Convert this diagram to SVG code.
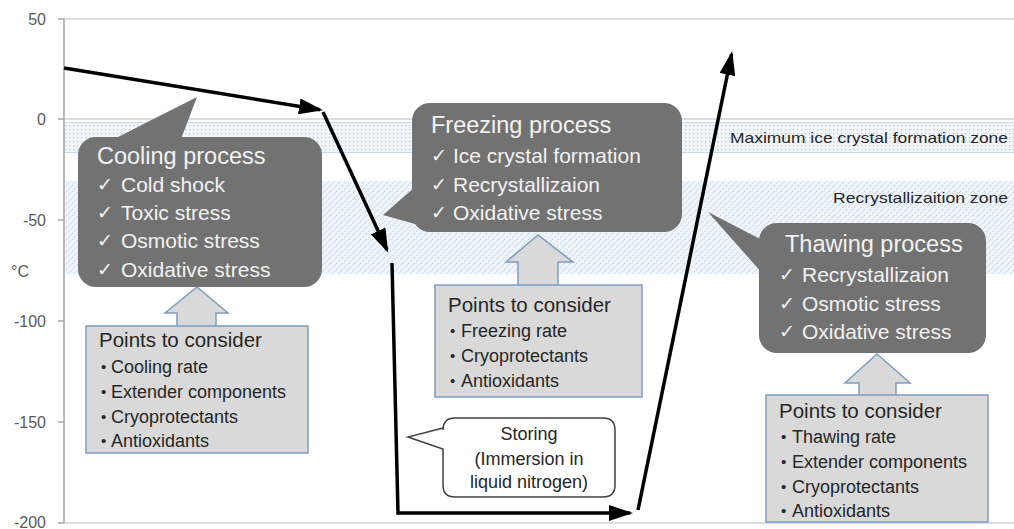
<svg xmlns="http://www.w3.org/2000/svg" width="1014" height="529" viewBox="0 0 1014 529">
<style>
text{font-family:"Liberation Sans",Arial,sans-serif}
.ax{font-size:16px;fill:#595959}
.zl{font-size:15px;fill:#262626}
.ct{font-size:23.5px;fill:#f2f2f2}
.ci{font-size:21px;fill:#f2f2f2}
.ck{font-family:"DejaVu Sans",sans-serif;font-size:19px;fill:#f2f2f2}
.call{fill:#727272}
.pbox{fill:#d9d9d9;stroke:#7f9dc4;stroke-width:1.5}
.pt{font-size:20.5px;fill:#262626}
.pi{font-size:18px;fill:#262626}
.bl{font-size:15px;fill:#262626}
.st{font-size:18px;fill:#262626;text-anchor:middle}
.grid{stroke:#d0d0d0;stroke-width:1.5;fill:none}
.conn{stroke:#000;stroke-width:3.5;fill:none;marker-end:url(#ah)}
</style>
<defs>
<marker id="ah" markerUnits="userSpaceOnUse" markerWidth="24" markerHeight="16" refX="21" refY="8" orient="auto">
<path d="M0,0 L24,8 L0,16 z" fill="#000"/>
</marker>
<pattern id="dots" width="4" height="4" patternUnits="userSpaceOnUse">
<rect width="4" height="4" fill="#f3f7fb"/>
<rect x="1" y="1" width="1.3" height="1.3" fill="#b3c9de"/>
</pattern>
<pattern id="diag" width="6" height="6" patternUnits="userSpaceOnUse">
<rect width="6" height="6" fill="#eef4f9"/>
<path d="M0,6 L6,0" stroke="#aec6dc" stroke-width="0.9" stroke-dasharray="1.3 1.3"/>
</pattern>
</defs>
<rect width="1014" height="529" fill="#fff"/>

<g id="zones">
<rect x="64" y="122" width="950" height="31" fill="url(#dots)"/>
<line x1="64" y1="122.5" x2="1014" y2="122.5" stroke="#c9dbea"/>
<line x1="64" y1="152.5" x2="1014" y2="152.5" stroke="#c9dbea"/>
<rect x="64" y="181" width="950" height="93" fill="url(#diag)"/>
<text class="zl" x="1008" y="143" text-anchor="end" textLength="278" lengthAdjust="spacingAndGlyphs">Maximum ice crystal formation zone</text>
<text class="zl" x="1008" y="203" text-anchor="end" textLength="175" lengthAdjust="spacingAndGlyphs">Recrystallizaition zone</text>
</g>

<g id="axes">
<line class="grid" x1="64" y1="19" x2="1014" y2="19"/>
<line class="grid" x1="64" y1="119" x2="1014" y2="119"/>
<line class="grid" x1="64" y1="523" x2="1014" y2="523"/>
<line x1="64" y1="19" x2="64" y2="523" stroke="#a6a6a6" stroke-width="1.5"/>
<g stroke="#a6a6a6" stroke-width="1.5">
<line x1="58" y1="19" x2="64" y2="19"/>
<line x1="58" y1="119" x2="64" y2="119"/>
<line x1="58" y1="220" x2="64" y2="220"/>
<line x1="58" y1="321" x2="64" y2="321"/>
<line x1="58" y1="422" x2="64" y2="422"/>
<line x1="58" y1="523" x2="64" y2="523"/>
</g>
<text class="ax" x="46" y="25" text-anchor="end">50</text>
<text class="ax" x="46" y="125" text-anchor="end">0</text>
<text class="ax" x="46" y="226" text-anchor="end">-50</text>
<text class="ax" x="46" y="327" text-anchor="end">-100</text>
<text class="ax" x="46" y="428" text-anchor="end">-150</text>
<text class="ax" x="46" y="528" text-anchor="end">-200</text>
<text class="ax" x="11" y="277">°C</text>
</g>

<g id="cooling-points">
<path class="pbox" d="M177,326 V313 H165 L197,287 L228,313 H216 V326"/>
<rect class="pbox" x="86" y="326" width="222" height="127"/>
<text class="pt" x="99" y="347">Points to consider</text>
<text class="bl" x="101" y="372">•</text><text class="pi" x="111" y="373">Cooling rate</text>
<text class="bl" x="101" y="397">•</text><text class="pi" x="111" y="398">Extender components</text>
<text class="bl" x="101" y="422">•</text><text class="pi" x="111" y="423">Cryoprotectants</text>
<text class="bl" x="101" y="446">•</text><text class="pi" x="111" y="447">Antioxidants</text>
</g>

<g id="freezing-points">
<path class="pbox" d="M518,285 V262 H506 L538,235 L573,262 H558 V285"/>
<rect class="pbox" x="435" y="285" width="207" height="112"/>
<text class="pt" x="448" y="312">Points to consider</text>
<text class="bl" x="450" y="336">•</text><text class="pi" x="461" y="337">Freezing rate</text>
<text class="bl" x="450" y="361">•</text><text class="pi" x="461" y="362">Cryoprotectants</text>
<text class="bl" x="450" y="386">•</text><text class="pi" x="461" y="387">Antioxidants</text>
</g>

<g id="thawing-points">
<path class="pbox" d="M859,395 V383 H845 L877,354 L910,383 H896 V395"/>
<rect class="pbox" x="766" y="395" width="222" height="127"/>
<text class="pt" x="779" y="418">Points to consider</text>
<text class="bl" x="781" y="442">•</text><text class="pi" x="792" y="443">Thawing rate</text>
<text class="bl" x="781" y="467">•</text><text class="pi" x="792" y="468">Extender components</text>
<text class="bl" x="781" y="492">•</text><text class="pi" x="792" y="493">Cryoprotectants</text>
<text class="bl" x="781" y="516">•</text><text class="pi" x="792" y="517">Antioxidants</text>
</g>

<g id="cooling-process">
<path class="call" d="M114,139 L197,97 L181,139 Z"/>
<rect class="call" x="78" y="137" width="244" height="150" rx="18"/>
<text class="ct" x="97" y="164">Cooling process</text>
<text class="ck" x="97" y="191">✓</text><text class="ci" x="121" y="192">Cold shock</text>
<text class="ck" x="97" y="219">✓</text><text class="ci" x="121" y="220">Toxic stress</text>
<text class="ck" x="97" y="247">✓</text><text class="ci" x="121" y="248">Osmotic stress</text>
<text class="ck" x="97" y="276">✓</text><text class="ci" x="121" y="277">Oxidative stress</text>
</g>

<g id="freezing-process">
<path class="call" d="M415,187 L383,215 L415,224 Z"/>
<rect class="call" x="412" y="103" width="270" height="129" rx="18"/>
<text class="ct" x="431" y="133">Freezing process</text>
<text class="ck" x="431" y="162">✓</text><text class="ci" x="453" y="163">Ice crystal formation</text>
<text class="ck" x="431" y="191">✓</text><text class="ci" x="453" y="192">Recrystallizaion</text>
<text class="ck" x="431" y="219">✓</text><text class="ci" x="453" y="220">Oxidative stress</text>
</g>

<g id="thawing-process">
<path class="call" d="M762,240 L708,212 L762,273 Z"/>
<rect class="call" x="759" y="223" width="227" height="130" rx="18"/>
<text class="ct" x="785" y="252">Thawing process</text>
<text class="ck" x="779" y="281">✓</text><text class="ci" x="802" y="282">Recrystallizaion</text>
<text class="ck" x="779" y="310">✓</text><text class="ci" x="802" y="311">Osmotic stress</text>
<text class="ck" x="779" y="338">✓</text><text class="ci" x="802" y="339">Oxidative stress</text>
</g>

<g id="storing">
<path d="M455,418 H603 Q615,418 615,430 V485 Q615,497 603,497 H455 Q443,497 443,485 V449 L408,437 L443,428 V430 Q443,418 455,418 Z" fill="#fff" stroke="#404040" stroke-width="1.5"/>
<text class="st" x="529" y="440">Storing</text>
<text class="st" x="529" y="465">(Immersion in</text>
<text class="st" x="529" y="488">liquid nitrogen)</text>
</g>

<g id="connectors">
<line class="conn" x1="64" y1="68" x2="320" y2="109.7"/>
<line class="conn" x1="323" y1="112" x2="387" y2="250"/>
<polyline class="conn" points="392,263 398,513 630,513"/>
<line class="conn" x1="638" y1="510" x2="731.6" y2="54"/>
</g>
</svg>
